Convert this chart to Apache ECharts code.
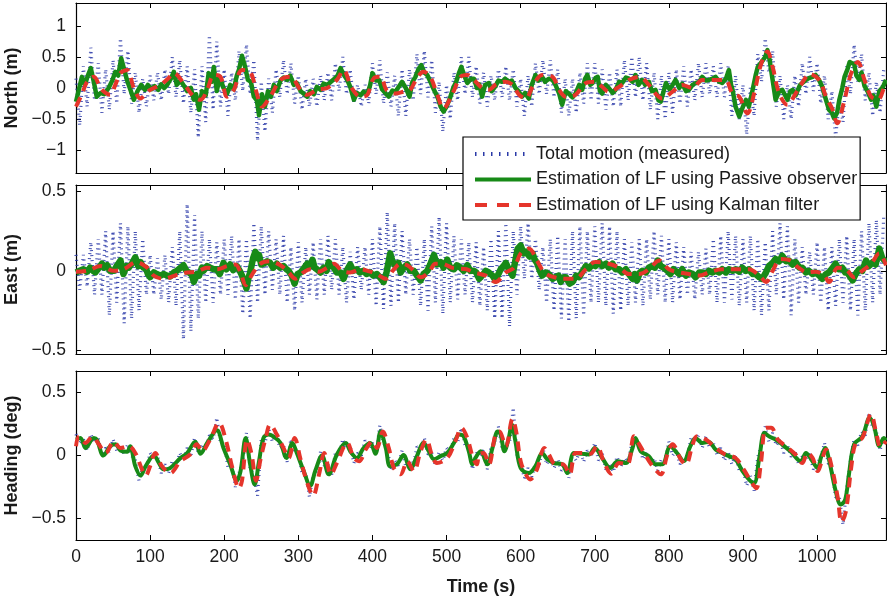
<!DOCTYPE html>
<html><head><meta charset="utf-8">
<script src="https://cdn.jsdelivr.net/npm/echarts@6/dist/echarts.min.js"></script>
<style>html,body{margin:0;padding:0;background:#fff}#c{width:887px;height:604px}</style>
</head><body><div id="c"></div>
<script>
// ---------------- data ----------------
const xTicks = [0,100,200,300,400,500,600,700,800,900,1000];
const northTicks = [-1,-0.5,0,0.5,1];
const eastTicks = [-0.5,0,0.5];
const headingTicks = [-0.5,0,0.5];
const measuredStep = 5; // s between stored samples of the measured signal

const northMeasured = [0.15,-0.6,0.35,-0.3,0.65,-0.2,0.4,-0.4,0.3,-0.35,0.45,-0.25,0.8,-0.1,0.6,-0.25,0.25,-0.4,0.15,-0.3,0.2,-0.2,0.25,-0.2,0.3,-0.1,0.5,-0.15,0.45,-0.25,0.35,-0.4,0.3,-0.8,0.35,-0.55,0.85,-0.35,0.75,-0.3,0.3,-0.45,0.25,-0.2,0.6,-0.05,0.7,-0.1,0.45,-0.85,0.1,-0.7,0.15,-0.4,0.3,-0.15,0.45,-0.1,0.4,-0.25,0.2,-0.35,0.15,-0.3,0.15,-0.3,0.2,-0.2,0.25,-0.2,0.4,-0.05,0.5,-0.1,0.3,-0.25,0.05,-0.3,0.05,-0.25,0.4,-0.1,0.45,-0.25,0.25,-0.3,0.2,-0.45,0.3,-0.45,0.3,-0.2,0.55,-0.1,0.6,-0.15,0.45,-0.4,0.1,-0.7,0.05,-0.5,0.25,-0.2,0.5,-0.1,0.5,-0.15,0.35,-0.25,0.25,-0.3,0.2,-0.2,0.3,-0.15,0.35,-0.2,0.3,-0.3,0.15,-0.45,0.2,-0.3,0.4,-0.1,0.45,-0.1,0.45,-0.15,0.3,-0.4,0.15,-0.45,0.15,-0.4,0.25,-0.25,0.4,-0.2,0.4,-0.25,0.3,-0.35,0.25,-0.3,0.3,-0.3,0.45,-0.2,0.5,-0.15,0.5,-0.2,0.4,-0.35,0.25,-0.5,0.2,-0.5,0.25,-0.4,0.3,-0.25,0.35,-0.3,0.3,-0.2,0.4,-0.15,0.4,-0.1,0.35,-0.15,0.4,-0.15,0.35,-0.45,0.2,-0.5,0.05,-0.75,0.0,-0.45,0.55,0.1,0.8,0.25,0.6,-0.3,0.2,-0.5,0.05,-0.5,0.2,-0.3,0.4,-0.1,0.5,-0.05,0.4,-0.25,0.2,-0.5,-0.05,-0.8,-0.2,-0.55,0.35,-0.1,0.7,0.1,0.55,-0.2,0.25,-0.45,0.1,-0.4,0.3];

const northPassive = [[0,-0.22],[4,-0.02],[8,0.18],[12,0.05],[16,0.2],[20,0.32],[24,0.1],[28,-0.14],[33,-0.08],[38,-0.1],[44,0.0],[49,0.12],[53,0.26],[57,0.2],[61,0.48],[65,0.3],[69,0.12],[74,-0.05],[78,-0.19],[83,-0.05],[88,0.05],[93,-0.03],[97,0.05],[102,-0.02],[106,0.03],[111,-0.03],[115,0.06],[119,0.0],[123,0.05],[128,0.15],[132,0.26],[136,0.05],[141,0.12],[146,0.03],[150,-0.05],[155,0.0],[159,-0.19],[162,-0.1],[166,-0.35],[170,-0.05],[175,-0.12],[179,0.24],[183,0.1],[186,0.34],[190,-0.05],[194,0.18],[199,0.0],[204,-0.09],[208,0.05],[213,-0.02],[217,0.2],[220,0.3],[224,0.52],[228,0.35],[232,0.13],[236,0.1],[240,-0.14],[244,-0.2],[247,-0.44],[251,-0.1],[255,-0.3],[259,-0.05],[263,-0.14],[267,0.05],[271,-0.05],[276,0.12],[280,0.17],[285,0.13],[289,0.2],[294,0.05],[298,0.08],[303,-0.05],[307,-0.09],[312,-0.14],[316,-0.05],[321,-0.1],[325,0.02],[330,-0.03],[334,0.07],[339,0.05],[344,0.1],[348,0.14],[353,0.2],[357,0.32],[362,0.2],[366,0.13],[370,0.02],[375,-0.19],[379,-0.08],[384,-0.12],[388,-0.06],[393,-0.1],[397,0.05],[400,0.24],[405,0.12],[409,0.13],[413,-0.02],[418,-0.09],[422,-0.14],[427,-0.04],[431,-0.06],[436,0.03],[440,0.1],[445,0.0],[450,-0.14],[454,0.1],[458,0.18],[462,0.3],[466,0.37],[470,0.25],[474,0.21],[479,0.08],[483,-0.03],[488,-0.15],[492,-0.3],[496,-0.38],[500,-0.3],[505,-0.15],[509,0.0],[513,0.1],[517,0.25],[520,0.34],[524,0.2],[528,0.08],[533,0.15],[537,0.15],[541,0.0],[544,0.06],[548,-0.14],[552,0.05],[557,0.08],[561,-0.05],[566,0.03],[570,0.12],[575,0.1],[579,0.15],[584,0.1],[588,0.12],[593,0.0],[597,-0.05],[602,-0.14],[606,-0.08],[611,-0.17],[615,0.05],[620,0.21],[624,0.12],[629,0.18],[633,0.1],[638,0.15],[643,0.13],[647,0.05],[652,-0.09],[656,-0.27],[661,-0.05],[665,-0.09],[670,-0.15],[674,-0.09],[679,0.05],[683,-0.03],[687,0.15],[690,0.21],[694,0.05],[697,0.08],[701,0.16],[704,0.18],[707,-0.05],[710,-0.09],[715,0.05],[719,0.0],[724,-0.08],[728,-0.03],[733,0.1],[737,0.08],[742,0.17],[746,0.15],[751,0.1],[755,0.21],[759,0.05],[764,0.13],[768,0.05],[773,0.1],[777,-0.05],[782,-0.03],[786,-0.2],[789,-0.22],[793,-0.05],[796,0.08],[801,-0.02],[805,0.05],[809,0.13],[814,0.0],[818,0.07],[823,-0.05],[827,-0.03],[832,0.05],[836,0.08],[841,0.1],[845,0.18],[850,0.12],[854,0.13],[859,0.15],[863,0.18],[868,0.1],[872,0.08],[877,0.15],[881,0.29],[884,0.05],[886,-0.03],[890,-0.3],[895,-0.46],[900,-0.3],[904,-0.19],[908,-0.3],[913,-0.03],[917,0.2],[920,0.34],[924,0.4],[926,0.42],[930,0.5],[933,0.61],[936,0.45],[940,0.13],[944,-0.19],[949,-0.05],[953,-0.03],[957,-0.12],[960,-0.19],[964,-0.05],[967,-0.03],[971,-0.12],[973,-0.14],[977,0.05],[980,0.08],[985,0.13],[989,0.16],[994,0.18],[998,0.21],[1003,0.12],[1007,0.02],[1011,-0.15],[1016,-0.35],[1020,-0.4],[1023,-0.49],[1027,-0.4],[1030,-0.19],[1034,0.0],[1037,0.18],[1041,0.3],[1044,0.42],[1047,0.4],[1050,0.39],[1053,0.2],[1057,0.13],[1060,0.25],[1064,0.03],[1068,-0.05],[1073,-0.19],[1076,-0.12],[1080,-0.3],[1084,-0.05],[1089,0.02],[1093,0.13]];

const northKalman = [[0,-0.3],[8,-0.1],[15,0.1],[24,0.18],[33,0.0],[40,-0.08],[46,-0.11],[53,0.05],[60,0.24],[69,0.29],[78,0.0],[87,-0.17],[94,-0.1],[100,-0.03],[114,0.05],[124,0.15],[132,0.24],[145,0.08],[159,-0.14],[168,-0.19],[177,-0.03],[186,0.21],[195,0.18],[204,-0.14],[213,-0.03],[224,0.29],[235,0.26],[244,-0.09],[251,-0.3],[262,-0.14],[276,0.13],[289,0.18],[303,-0.03],[312,-0.11],[325,-0.03],[339,0.0],[352,0.13],[361,0.29],[372,0.0],[384,-0.14],[393,-0.11],[402,0.16],[411,0.18],[419,-0.03],[431,-0.09],[442,-0.06],[451,-0.03],[460,0.16],[469,0.26],[478,0.18],[487,-0.09],[496,-0.33],[508,-0.09],[519,0.18],[528,0.21],[537,0.13],[548,0.0],[557,-0.03],[566,0.05],[579,0.1],[589,0.05],[598,-0.11],[607,-0.17],[616,0.02],[629,0.21],[643,0.18],[652,-0.03],[661,-0.14],[674,-0.11],[688,0.08],[701,0.1],[710,0.02],[719,-0.06],[733,0.02],[746,0.13],[760,0.18],[773,0.05],[782,-0.09],[791,-0.17],[805,-0.06],[818,0.05],[832,0.0],[845,0.13],[863,0.13],[876,0.13],[886,-0.09],[895,-0.14],[906,-0.41],[915,-0.09],[924,0.37],[933,0.59],[940,0.34],[949,-0.09],[960,-0.27],[971,-0.09],[985,0.18],[989,0.23],[1003,0.13],[1012,-0.14],[1021,-0.35],[1027,-0.57],[1037,-0.19],[1046,0.24],[1055,0.42],[1064,0.13],[1073,-0.14],[1082,-0.19],[1091,0.02],[1093,0.05]];

const eastMeasured = [0.1,-0.12,0.1,-0.1,0.18,-0.15,0.2,-0.15,0.25,-0.28,0.25,-0.2,0.3,-0.33,0.28,-0.3,0.25,-0.25,0.2,-0.15,0.1,-0.15,0.08,-0.18,0.1,-0.2,0.15,-0.22,0.25,-0.43,0.42,-0.38,0.35,-0.3,0.25,-0.2,0.2,-0.2,0.18,-0.15,0.2,-0.15,0.22,-0.18,0.2,-0.27,0.2,-0.3,0.3,-0.2,0.28,-0.15,0.25,-0.12,0.2,-0.15,0.22,-0.2,0.15,-0.25,0.18,-0.2,0.15,-0.15,0.18,-0.18,0.2,-0.15,0.22,-0.12,0.2,-0.15,0.15,-0.2,0.12,-0.18,0.15,-0.12,0.15,-0.15,0.2,-0.22,0.28,-0.24,0.37,-0.22,0.3,-0.2,0.25,-0.15,0.2,-0.15,0.15,-0.22,0.2,-0.25,0.28,-0.2,0.34,-0.27,0.3,-0.2,0.22,-0.18,0.2,-0.15,0.18,-0.2,0.18,-0.22,0.15,-0.25,0.2,-0.3,0.25,-0.3,0.3,-0.35,0.25,-0.15,0.28,-0.05,0.3,-0.05,0.2,-0.12,0.15,-0.2,0.2,-0.25,0.22,-0.3,0.2,-0.32,0.25,-0.3,0.28,-0.28,0.25,-0.2,0.28,-0.2,0.3,-0.22,0.28,-0.27,0.25,-0.25,0.2,-0.22,0.18,-0.2,0.2,-0.22,0.2,-0.18,0.25,-0.15,0.22,-0.2,0.2,-0.2,0.18,-0.18,0.15,-0.15,0.12,-0.18,0.12,-0.15,0.14,-0.15,0.2,-0.2,0.22,-0.2,0.25,-0.18,0.22,-0.22,0.2,-0.2,0.22,-0.25,0.2,-0.28,0.18,-0.25,0.25,-0.15,0.3,-0.18,0.28,-0.28,0.2,-0.2,0.15,-0.15,0.12,-0.15,0.18,-0.2,0.15,-0.25,0.15,-0.22,0.2,-0.2,0.22,-0.25,0.2,-0.28,0.25,-0.25,0.3,-0.2,0.32,-0.15,0.35];

const eastPassive = [[0,-0.01],[5,0.0],[10,0.01],[15,-0.005],[19,0.02],[23,0.0],[26,-0.01],[31,0.02],[35,0.045],[38,0.02],[42,0.035],[46,0.0],[51,0.0],[55,0.03],[60,0.065],[64,-0.02],[68,0.03],[71,0.02],[76,0.05],[80,0.085],[84,0.03],[87,0.055],[91,0.02],[94,0.02],[97,-0.02],[100,-0.04],[105,-0.01],[109,-0.02],[114,-0.03],[118,-0.02],[123,-0.03],[127,-0.035],[132,-0.01],[136,0.0],[141,0.02],[145,0.035],[149,0.0],[152,-0.01],[156,-0.02],[159,-0.07],[163,-0.02],[166,-0.03],[170,0.02],[172,0.0],[177,0.03],[181,0.02],[186,0.01],[190,0.01],[194,-0.02],[199,0.05],[203,0.01],[208,0.04],[212,0.005],[217,0.03],[221,0.0],[224,-0.03],[227,-0.07],[230,-0.11],[233,-0.04],[235,-0.01],[239,0.08],[242,0.12],[245,0.08],[247,0.1],[250,0.04],[253,0.045],[258,0.06],[262,0.05],[266,0.02],[271,0.045],[275,0.02],[280,0.03],[284,0.01],[287,0.0],[291,-0.03],[295,-0.08],[299,-0.02],[303,-0.01],[308,0.02],[312,0.045],[316,0.03],[319,0.07],[322,0.02],[325,0.01],[330,-0.01],[334,0.02],[338,0.0],[341,0.055],[345,0.03],[348,0.02],[352,-0.01],[357,-0.01],[361,-0.05],[365,0.0],[370,0.04],[374,0.0],[379,0.01],[383,-0.01],[388,0.0],[392,-0.02],[397,-0.01],[401,-0.03],[406,-0.02],[410,-0.04],[415,-0.07],[419,-0.01],[424,0.11],[427,0.06],[431,0.03],[435,0.05],[438,-0.01],[442,0.02],[447,0.04],[451,0.0],[456,0.0],[460,-0.03],[465,-0.06],[469,-0.02],[474,0.0],[478,0.04],[483,0.1],[487,0.04],[492,0.055],[496,0.02],[501,0.07],[505,0.02],[510,0.01],[514,0.035],[519,0.02],[523,0.0],[528,0.035],[532,0.0],[537,0.0],[540,-0.01],[544,-0.05],[548,-0.03],[553,0.0],[557,-0.01],[562,-0.03],[566,-0.06],[570,-0.02],[573,0.01],[577,0.03],[580,0.05],[585,0.0],[589,-0.03],[593,0.07],[596,0.14],[600,0.16],[604,0.11],[607,0.12],[612,0.09],[616,0.11],[619,0.07],[622,0.05],[626,0.0],[629,-0.03],[634,-0.01],[638,-0.02],[643,-0.05],[647,-0.04],[651,-0.03],[654,-0.07],[658,-0.04],[661,-0.04],[666,-0.08],[670,-0.07],[675,-0.03],[679,-0.04],[684,0.0],[688,0.03],[692,0.015],[697,0.04],[701,0.03],[706,0.055],[710,0.03],[715,0.045],[719,0.02],[724,0.045],[728,0.01],[733,0.01],[737,-0.01],[742,0.01],[746,-0.02],[751,-0.05],[754,-0.02],[757,-0.06],[761,-0.01],[764,0.0],[769,-0.01],[773,0.02],[777,0.03],[781,0.02],[785,0.065],[789,0.03],[793,0.02],[798,0.0],[802,-0.02],[806,0.01],[809,0.0],[814,-0.02],[818,0.01],[823,-0.03],[827,-0.01],[832,-0.02],[836,-0.04],[841,-0.01],[845,-0.01],[850,-0.02],[854,0.0],[859,-0.01],[863,0.0],[868,-0.01],[872,0.01],[877,-0.01],[881,0.01],[886,0.0],[890,0.01],[895,-0.005],[899,0.02],[904,0.0],[908,0.01],[913,-0.02],[917,-0.02],[922,-0.04],[926,-0.05],[931,-0.01],[935,0.03],[940,0.05],[944,0.075],[949,0.06],[953,0.095],[958,0.06],[962,0.065],[967,0.04],[971,0.055],[976,0.02],[980,0.02],[985,-0.01],[989,0.0],[994,-0.02],[998,-0.01],[1003,-0.03],[1007,-0.05],[1012,-0.02],[1016,-0.01],[1021,0.02],[1025,0.045],[1029,0.01],[1034,0.02],[1038,-0.01],[1041,-0.01],[1045,-0.04],[1048,-0.06],[1052,-0.02],[1057,0.01],[1061,0.0],[1066,0.065],[1070,0.03],[1075,0.055],[1079,0.04],[1084,0.14],[1088,0.08],[1093,0.055]];

const eastKalman = [[0,-0.005],[15,0.0],[33,0.03],[51,0.0],[64,0.01],[82,0.055],[96,0.02],[105,-0.03],[118,-0.05],[136,-0.025],[150,-0.01],[163,-0.005],[177,0.02],[190,0.01],[204,0.03],[215,0.04],[222,-0.01],[229,-0.09],[238,-0.02],[249,0.045],[262,0.06],[276,0.035],[287,-0.01],[296,-0.05],[307,-0.01],[316,0.01],[328,-0.005],[339,0.02],[348,0.045],[359,0.0],[370,-0.01],[384,0.01],[397,-0.005],[406,-0.02],[418,-0.05],[429,0.01],[438,0.045],[447,0.035],[456,0.0],[465,-0.04],[476,-0.01],[485,0.045],[494,0.045],[507,0.02],[516,0.015],[527,0.01],[537,-0.01],[553,-0.03],[566,-0.07],[580,-0.01],[591,0.02],[600,0.11],[611,0.14],[622,0.065],[632,-0.01],[645,-0.04],[659,-0.05],[674,-0.05],[688,0.01],[701,0.055],[719,0.045],[733,0.02],[746,-0.02],[760,-0.02],[773,0.01],[787,0.065],[800,0.01],[814,-0.01],[827,-0.02],[841,-0.03],[854,-0.01],[872,0.01],[890,0.01],[908,0.01],[922,-0.03],[931,-0.07],[940,0.0],[951,0.075],[964,0.065],[975,0.02],[987,-0.01],[998,-0.005],[1010,-0.03],[1016,-0.07],[1028,0.02],[1039,0.01],[1050,-0.04],[1061,0.0],[1073,0.045],[1084,0.11],[1093,0.035]];

const headingMeasured = [0.17,0.1,0.13,0.04,0.17,0.1,0.14,0.0,0.06,0.03,0.13,0.04,0.08,0.01,0.09,0.0,-0.04,-0.2,-0.1,-0.11,0.02,-0.03,0.0,-0.14,-0.07,-0.14,-0.04,-0.09,0.02,-0.04,0.06,0.0,0.14,0.02,0.08,0.05,0.16,0.13,0.3,0.1,0.1,-0.09,-0.06,-0.25,-0.14,-0.05,0.18,-0.1,-0.16,-0.32,0.13,0.1,0.22,0.11,0.19,0.06,0.08,-0.05,0.13,0.03,0.03,-0.14,-0.13,-0.33,-0.15,-0.15,0.03,-0.08,-0.07,-0.15,0.02,0.0,0.13,0.05,0.07,-0.06,0.02,0.0,0.12,0.06,0.1,0.01,0.24,0.1,0.06,-0.12,-0.04,-0.08,0.04,-0.09,-0.05,-0.09,0.07,0.04,0.14,0.01,0.02,-0.08,0.03,-0.04,0.06,0.02,0.14,0.1,0.22,0.08,0.07,-0.11,0.02,0.0,0.04,-0.11,0.07,0.1,0.23,0.05,0.08,0.1,0.38,0.0,-0.06,-0.18,-0.1,-0.17,-0.06,-0.08,0.06,-0.07,-0.01,-0.1,-0.03,-0.12,-0.08,-0.18,0.01,-0.04,0.04,-0.05,0.04,-0.01,0.1,-0.04,0.02,-0.11,-0.06,-0.13,-0.01,-0.09,-0.02,-0.06,0.1,0.1,0.09,-0.03,0.03,-0.07,-0.02,-0.12,-0.03,-0.04,0.11,0.0,0.04,-0.07,-0.01,-0.01,0.14,0.1,0.16,0.06,0.15,0.06,0.1,0.0,0.06,-0.04,0.03,-0.07,0.0,-0.12,-0.1,-0.24,-0.16,-0.28,-0.01,0.08,0.23,0.11,0.18,0.08,0.13,0.02,0.08,-0.01,0.04,-0.07,-0.01,-0.02,0.01,-0.11,-0.06,-0.02,0.1,-0.06,-0.11,-0.33,-0.33,-0.55,-0.26,-0.04,0.13,0.08,0.19,0.16,0.34,0.22,0.19,0.04,0.17];

const headingPassive = [[0,0.127],[6,0.14],[13,0.06],[24,0.14],[28,0.127],[37,0.0],[46,0.074],[53,0.09],[60,0.04],[69,0.03],[73,0.074],[80,-0.085],[87,-0.16],[94,-0.085],[105,0.0],[112,-0.06],[118,-0.11],[127,-0.1],[141,-0.02],[150,0.02],[161,0.11],[168,0.013],[177,0.1],[190,0.2],[199,0.06],[208,-0.07],[217,-0.2],[222,-0.125],[229,0.14],[235,-0.07],[241,-0.23],[247,-0.045],[253,0.14],[260,0.167],[269,0.14],[276,0.1],[284,-0.02],[292,0.1],[298,0.02],[307,-0.12],[316,-0.24],[323,-0.12],[332,0.0],[341,-0.15],[352,0.008],[364,0.1],[370,0.034],[379,-0.02],[388,0.06],[397,0.1],[404,0.013],[411,0.19],[418,0.06],[424,-0.085],[433,-0.07],[442,0.003],[451,-0.11],[460,-0.005],[469,0.1],[476,0.034],[483,-0.03],[492,-0.005],[501,0.02],[510,0.1],[517,0.167],[523,0.153],[530,0.034],[535,-0.07],[539,-0.02],[546,0.034],[555,-0.07],[562,0.06],[569,0.19],[573,0.167],[578,0.034],[584,0.14],[588,0.246],[593,0.11],[600,-0.1],[611,-0.14],[620,-0.085],[629,0.02],[636,-0.03],[645,-0.06],[656,-0.07],[663,-0.14],[672,0.02],[683,0.013],[692,0.008],[700,0.06],[710,-0.02],[721,-0.1],[731,-0.045],[742,-0.06],[751,0.06],[755,0.14],[762,0.034],[773,-0.005],[782,-0.07],[791,-0.07],[802,0.074],[811,0.02],[820,-0.045],[829,0.074],[836,0.14],[845,0.1],[854,0.108],[863,0.048],[872,0.02],[881,-0.005],[890,-0.03],[899,-0.12],[908,-0.19],[915,-0.22],[922,-0.02],[929,0.18],[935,0.153],[944,0.127],[953,0.087],[964,0.034],[978,-0.045],[985,0.02],[992,-0.03],[1001,-0.1],[1005,-0.02],[1011,0.06],[1016,-0.03],[1025,-0.28],[1032,-0.39],[1038,-0.35],[1043,-0.15],[1050,0.09],[1061,0.15],[1071,0.3],[1077,0.23],[1084,0.074],[1090,0.14],[1093,0.12]];

const headingKalman = [[0,0.074],[4,0.15],[13,0.1],[22,0.15],[31,0.087],[40,0.02],[51,0.11],[60,0.06],[71,0.074],[80,0.02],[89,-0.11],[94,-0.16],[100,-0.085],[107,0.02],[116,-0.085],[127,-0.14],[141,-0.045],[154,0.008],[163,0.09],[170,0.034],[181,0.127],[193,0.26],[202,0.127],[211,-0.098],[220,-0.26],[224,-0.2],[231,0.127],[237,0.008],[243,-0.2],[249,-0.03],[256,0.14],[262,0.246],[271,0.167],[280,0.06],[287,-0.02],[295,0.14],[303,-0.03],[312,-0.217],[320,-0.32],[328,-0.15],[335,0.02],[344,-0.15],[352,-0.06],[366,0.1],[375,-0.02],[382,-0.045],[391,0.048],[400,0.114],[406,0.06],[414,0.19],[422,0.06],[429,-0.1],[438,-0.15],[447,-0.045],[456,-0.124],[465,0.034],[473,0.127],[480,0.008],[487,-0.06],[501,-0.02],[512,0.114],[520,0.22],[528,0.14],[535,-0.005],[541,-0.07],[544,0.008],[550,0.02],[557,-0.07],[566,0.167],[571,0.19],[580,0.074],[589,0.29],[594,0.19],[600,-0.045],[607,-0.15],[613,-0.19],[622,-0.11],[632,0.06],[638,0.008],[647,-0.07],[657,-0.07],[666,-0.15],[674,0.02],[685,0.02],[694,0.013],[703,0.074],[712,-0.045],[722,-0.145],[733,-0.06],[744,-0.07],[753,0.153],[759,0.1],[769,-0.005],[778,-0.085],[789,-0.15],[798,0.008],[805,0.09],[816,-0.03],[823,-0.07],[832,0.087],[838,0.153],[850,0.127],[863,0.06],[876,0.008],[890,-0.02],[901,-0.11],[912,-0.217],[918,-0.26],[924,-0.07],[931,0.22],[938,0.22],[947,0.127],[958,0.074],[971,0.008],[980,-0.06],[987,0.02],[994,-0.02],[1001,-0.124],[1005,-0.07],[1012,0.048],[1020,-0.098],[1028,-0.34],[1033,-0.53],[1039,-0.44],[1046,-0.098],[1052,0.1],[1061,0.14],[1073,0.33],[1079,0.2],[1086,0.066],[1093,0.114]];

const seriesNames = ['Total motion (measured)','Estimation of LF using Passive observer','Estimation of LF using Kalman filter'];
const panelNames = ['North (m)','East (m)','Heading (deg)'];
const panelRanges = [[-1.37,1.37],[-0.523,0.54],[-0.672,0.672]];
const panelTicks = [northTicks, eastTicks, headingTicks];
const timeMax = 1093;

// ---------------- chart ----------------
const FONT = "'Liberation Sans', Arial, Helvetica, sans-serif";
const BLUE = '#2b3aa8', GREEN = '#178a17', RED = '#e5352b';
const greenWidths = [4.5, 6.5, 4];
const grids = [
  {left:76,right:1,top:3,height:170,outerBoundsMode:'none',containLabel:false},
  {left:76,right:1,top:185,height:169,outerBoundsMode:'none',containLabel:false},
  {left:76,right:1,top:371,height:169,outerBoundsMode:'none',containLabel:false}];
const fmt = v => String(v).replace('-', '\u2212');

const xAxis = [], yAxis = [], series = [];
const measured = [northMeasured, eastMeasured, headingMeasured];
const passive = [northPassive, eastPassive, headingPassive];
const kalman = [northKalman, eastKalman, headingKalman];

for (let g = 0; g < 3; g++) {
  const last = g === 2;
  const tick = {show:true, inside:true, length:5, lineStyle:{color:'#000', width:1}};
  xAxis.push({type:'value', gridIndex:g, min:0, max:timeMax, position:'bottom',
    axisLine:{show:true, onZero:false, lineStyle:{color:'#000', width:1.2}},
    axisTick:Object.assign({customValues:xTicks}, tick),
    axisLabel:{show:last, customValues:xTicks, formatter:v => String(v), margin:8, color:'#1a1a1a', fontSize:17.5, fontFamily:FONT},
    splitLine:{show:false},
    name: last ? 'Time (s)' : '', nameLocation:'middle', nameGap:38,
    nameTextStyle:{fontSize:18, fontWeight:'bold', color:'#1a1a1a', fontFamily:FONT}});
  xAxis.push({type:'value', gridIndex:g, min:0, max:timeMax, position:'top',
    axisLine:{show:true, onZero:false, lineStyle:{color:'#000', width:1.2}},
    axisTick:Object.assign({customValues:xTicks}, tick),
    axisLabel:{show:false}, splitLine:{show:false}});
  const tk = panelTicks[g];
  yAxis.push({type:'value', gridIndex:g, min:panelRanges[g][0], max:panelRanges[g][1], position:'left',
    axisLine:{show:true, onZero:false, lineStyle:{color:'#000', width:1.2}},
    axisTick:Object.assign({customValues:tk}, tick),
    axisLabel:{customValues:tk, formatter:fmt, margin:10, color:'#1a1a1a', fontSize:17.5, fontFamily:FONT},
    splitLine:{show:false},
    name:panelNames[g], nameLocation:'middle', nameGap:51, nameRotate:90,
    nameTextStyle:{fontSize:18, fontWeight:'bold', color:'#1a1a1a', fontFamily:FONT}});
  yAxis.push({type:'value', gridIndex:g, min:panelRanges[g][0], max:panelRanges[g][1], position:'right',
    axisLine:{show:true, onZero:false, lineStyle:{color:'#000', width:1.2}},
    axisTick:Object.assign({customValues:tk}, tick),
    axisLabel:{show:false}, splitLine:{show:false}});

  const xi = 2*g, yi = 2*g;
  series.push({name:seriesNames[0], type:'line', xAxisIndex:xi, yAxisIndex:yi, z:1,
    showSymbol:false, symbol:'none', animation:false,
    data: measured[g].map((v,i) => [i*measuredStep, v]),
    lineStyle:{color:BLUE, width:3.2, type:[1,4], cap:'butt', opacity:0.9}});
  series.push({name:seriesNames[1], type:'line', xAxisIndex:xi, yAxisIndex:yi, z:2,
    showSymbol:false, symbol:'none', animation:false, smooth: g===2 ? 0.35 : 0,
    data: passive[g], lineStyle:{color:GREEN, width:greenWidths[g], join:'round'}});
  series.push({name:seriesNames[2], type:'line', xAxisIndex:xi, yAxisIndex:yi, z:3,
    showSymbol:false, symbol:'none', animation:false, smooth:0.35,
    data: kalman[g], lineStyle:{color:RED, width:4, type:[10,7]}});
}

const chart = echarts.init(document.getElementById('c'), null, {renderer:'canvas'});
chart.setOption({
  backgroundColor:'#fff',
  animation:false,
  grid:grids,
  xAxis, yAxis, series,
  legend:{
    left:463, top:137, orient:'vertical', z:10,
    backgroundColor:'#fff', borderColor:'#000', borderWidth:1.2, borderRadius:0,
    padding:[8,3,6,10], itemGap:7.5, itemWidth:56, itemHeight:12,
    textStyle:{fontSize:18, color:'#1a1a1a', fontFamily:FONT},
    selectedMode:false,
    data:[
      {name:seriesNames[0], itemStyle:{opacity:0}, lineStyle:{color:BLUE, width:4, type:[1.5,6.5], cap:'butt', opacity:1}},
      {name:seriesNames[1], itemStyle:{opacity:0}, lineStyle:{color:GREEN, width:4}},
      {name:seriesNames[2], itemStyle:{opacity:0}, lineStyle:{color:RED, width:4, type:[12,10]}}
    ]
  }
});
</script></body></html>
